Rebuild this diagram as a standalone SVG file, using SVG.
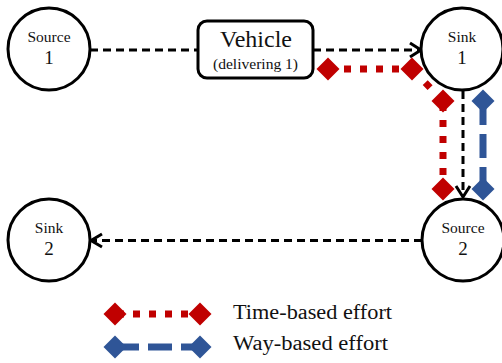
<svg xmlns="http://www.w3.org/2000/svg" width="502" height="363" viewBox="0 0 502 363">
<style>
.node{fill:#fff;stroke:#000;stroke-width:3}
.t{font-family:'Liberation Serif','DejaVu Serif','Times New Roman',serif;fill:#111;text-anchor:middle}
.small{font-size:15.5px}
.num{font-size:19px}
.flow{fill:none;stroke:#000;stroke-width:3;stroke-dasharray:8 5}
.head{fill:none;stroke:#000;stroke-width:3;stroke-linejoin:miter}
.red{fill:none;stroke:#c00000;stroke-width:7;stroke-dasharray:7 9}
.blue{fill:none;stroke:#2f5597;stroke-width:7;stroke-dasharray:24 9}
.rd{fill:#c00000}
.bd{fill:#2f5597}
.leg{font-family:'Liberation Serif','DejaVu Serif','Times New Roman',serif;font-size:20px;fill:#111}
</style>
<defs>
<path id="dia" d="M0,-11.5 L11.5,0 L0,11.5 L-11.5,0 Z"/>
</defs>
<g id="connectors">
<line class="flow" x1="90" y1="50" x2="198" y2="50"/>
<line class="flow" x1="313" y1="50" x2="420" y2="50"/>
<polyline class="head" points="410,43 421,50 410,57"/>
<line class="flow" x1="463" y1="91" x2="463" y2="196"/>
<polyline class="head" points="456,186 463,197 470,186"/>
<line class="flow" x1="422" y1="240.5" x2="92" y2="240.5"/>
<polyline class="head" points="102,234 91,240.5 102,247"/>
</g>
<g id="time-effort">
<line class="red" x1="328" y1="69" x2="412" y2="69"/>
<line x1="412" y1="69" x2="443" y2="101" stroke="#c00000" stroke-width="7" stroke-dasharray="0 19 7 60"/>
<line class="red" x1="443" y1="101" x2="443" y2="189" stroke-dashoffset="-3"/>
<use href="#dia" class="rd" x="328" y="69"/>
<use href="#dia" class="rd" x="412" y="69"/>
<use href="#dia" class="rd" x="443" y="101"/>
<use href="#dia" class="rd" x="443" y="189"/>
</g>
<g id="way-effort">
<line class="blue" x1="483" y1="101" x2="483" y2="189" stroke-dasharray="19 13 25 10 30"/>
<use href="#dia" class="bd" x="483" y="101"/>
<use href="#dia" class="bd" x="483" y="189"/>
</g>
<g id="source1">
<circle class="node" cx="49" cy="49" r="41"/>
<text class="t small" x="49" y="42">Source</text>
<text class="t num" x="49" y="64">1</text>
</g>
<g id="vehicle">
<rect class="node" x="198" y="21" width="115" height="57" rx="9"/>
<text class="t" x="256" y="47" font-size="24">Vehicle</text>
<text class="t" x="255.5" y="69" font-size="15" textLength="85" lengthAdjust="spacingAndGlyphs">(delivering 1)</text>
</g>
<g id="sink1">
<circle class="node" cx="462" cy="49" r="41"/>
<text class="t small" x="462" y="42">Sink</text>
<text class="t num" x="462" y="64">1</text>
</g>
<g id="source2">
<circle class="node" cx="463" cy="240" r="41"/>
<text class="t small" x="463" y="233">Source</text>
<text class="t num" x="463" y="255">2</text>
</g>
<g id="sink2">
<circle class="node" cx="49" cy="240" r="41"/>
<text class="t small" x="49" y="233">Sink</text>
<text class="t num" x="49" y="255">2</text>
</g>
<g id="legend">
<line class="red" x1="115" y1="314" x2="200" y2="314" stroke-dashoffset="-2"/>
<use href="#dia" class="rd" x="115" y="314"/>
<use href="#dia" class="rd" x="200" y="314"/>
<text class="leg" x="233" y="319" textLength="159" lengthAdjust="spacingAndGlyphs">Time-based effort</text>
<line class="blue" x1="115" y1="347" x2="200" y2="347"/>
<use href="#dia" class="bd" x="115" y="347"/>
<use href="#dia" class="bd" x="200" y="347"/>
<text class="leg" x="233" y="350" textLength="155" lengthAdjust="spacingAndGlyphs">Way-based effort</text>
</g>
</svg>
